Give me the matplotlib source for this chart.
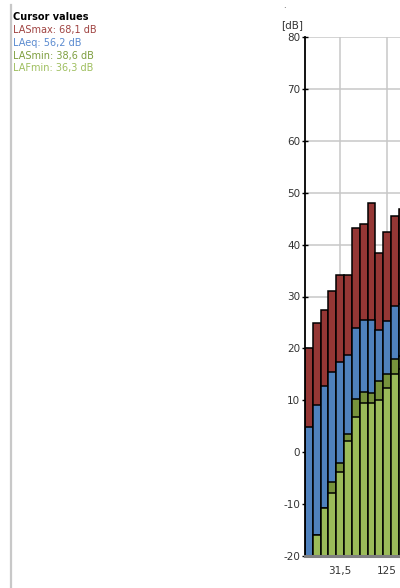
import matplotlib
matplotlib.use("Agg")
import matplotlib.pyplot as plt
from matplotlib.lines import Line2D
import numpy as np

plt.rcParams["axes.unicode_minus"] = False

# third-octave bands visible in the view (chart continues off to the right)
bands = ["12,5", "16", "20", "25", "31,5", "40", "50", "63", "80", "100", "125", "160", "200"]
las_max = [20.1, 24.9, 27.4, 31.0, 34.1, 34.2, 43.2, 43.9, 48.1, 38.3, 42.4, 45.5, 46.8]
la_eq = [4.8, 9.0, 12.7, 15.4, 17.3, 18.8, 24.0, 25.4, 25.5, 23.5, 25.3, 28.1, 28.5]
las_min = [-25.0, -16.0, -10.7, -5.7, -2.0, 3.6, 10.2, 11.6, 11.4, 13.8, 15.1, 17.9, 18.5]
laf_min = [-26.0, -16.0, -10.7, -7.9, -3.9, 2.2, 6.8, 9.4, 9.5, 10.0, 12.3, 15.0, 16.0]

tick_labels = ["31,5", "125"]
tick_pos = [4, 10]
grid_pos = [4, 10, 16, 22, 28]

cursor_title = "Cursor values"
cursor_lines = ["LASmax: 68,1 dB", "LAeq: 56,2 dB", "LASmin: 38,6 dB", "LAFmin: 36,3 dB"]

c_max = "#953735"
c_eq = "#4f81bd"
c_smin = "#77933c"
c_fmin = "#9bbb59"
cursor_colors = ["#a04442", "#5b8bd0", "#7f9f40", "#9fbf5f"]

W, H = 400, 588
fig = plt.figure(figsize=(W / 100, H / 100), dpi=100)

# axes: left spine at x=305, y 80 at 37px, -20 at 556px; extends past right edge
n_bands = 33
bw = 7.83
ax = fig.add_axes([305 / W, (H - 556) / H, n_bands * bw / W, (556 - 37) / H])

x = np.arange(len(bands))
base = -30
for vals, col in [(las_max, c_max), (la_eq, c_eq), (las_min, c_smin), (laf_min, c_fmin)]:
    v = np.array(vals)
    ax.bar(x, v - base, bottom=base, width=1.0, color=col, edgecolor="black",
           linewidth=1.1, zorder=3)

ax.set_xlim(-0.5, n_bands - 0.5)
ax.set_ylim(-20, 80)
ax.set_yticks(np.arange(-20, 81, 10))
ax.set_xticks(tick_pos)
ax.set_xticklabels(tick_labels)
ax.grid(True, axis="y", color="#c8c8c8", linewidth=1.1, zorder=0)
for g in grid_pos:
    ax.axvline(g, color="#c8c8c8", linewidth=1.1, zorder=0)
ax.set_axisbelow(True)

for s in ["top", "right"]:
    ax.spines[s].set_visible(False)
ax.spines["left"].set_linewidth(1.3)
ax.spines["left"].set_color("black")
ax.spines["left"].set_zorder(5)
ax.spines["bottom"].set_color("#808080")
ax.spines["bottom"].set_linewidth(2.2)
ax.spines["bottom"].set_zorder(5)

ax.tick_params(axis="y", direction="inout", length=5, width=1.0, color="black",
               labelsize=7.5, labelcolor="#333333", pad=1)
ax.tick_params(axis="x", length=0, labelsize=7.5, labelcolor="#333333", pad=7)

fig.text(292 / W, 1 - 25 / H, "[dB]", fontsize=7.5, color="#333333", ha="center", va="center")
fig.text(284 / W, 1 - 6 / H, ".", fontsize=6, color="#333333", ha="center", va="center")

# left info panel
fig.add_artist(Line2D([10.5 / W, 10.5 / W], [1 - 5 / H, 1 - 587 / H], color="#c8c8c8", linewidth=1.6))
fig.text(13 / W, 1 - 16.5 / H, cursor_title, fontsize=7, fontweight="bold", color="black", va="center")
ys = [30.5, 43, 55.5, 68]
for txt, col, yy in zip(cursor_lines, cursor_colors, ys):
    fig.text(13 / W, 1 - yy / H, txt, fontsize=7, color=col, va="center")

fig.savefig("out.png", dpi=100)
